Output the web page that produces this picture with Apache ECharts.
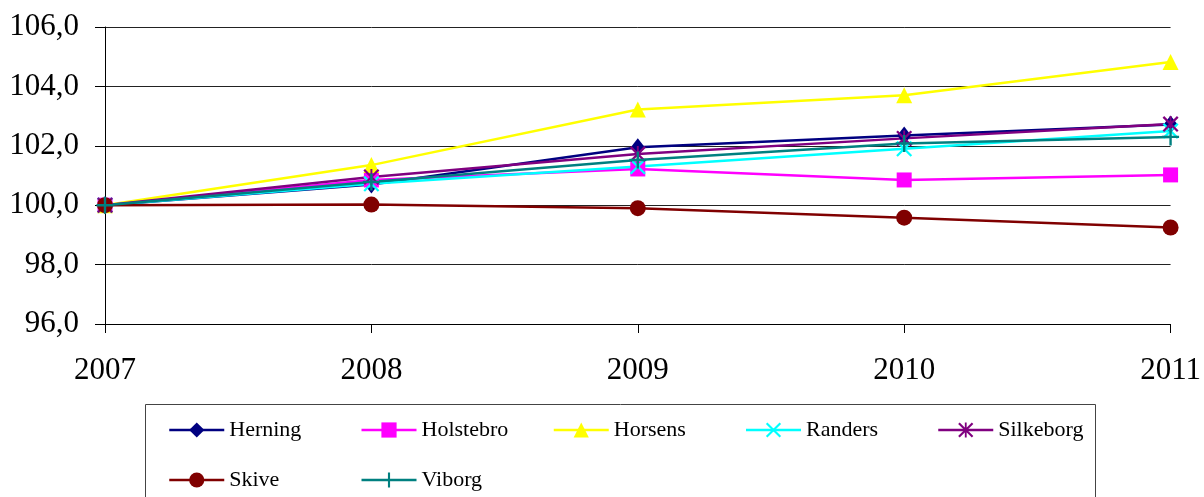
<!DOCTYPE html>
<html>
<head>
<meta charset="utf-8">
<script src="https://cdn.jsdelivr.net/npm/echarts@6/dist/echarts.min.js"></script>
<style>
html,body{margin:0;padding:0;background:#fff;}
#c{width:1204px;height:497px;}
</style>
</head>
<body>
<div id="c"></div>
<script>
var years = ['2007', '2008', '2009', '2010', '2011'];
var herning   = [100, 100.70, 101.95, 102.35, 102.72];
var holstebro = [100, 100.85, 101.22, 100.85, 101.02];
var horsens   = [100, 101.35, 103.22, 103.70, 104.82];
var randers   = [100, 100.72, 101.30, 101.90, 102.50];
var silkeborg = [100, 100.95, 101.72, 102.25, 102.73];
var skive     = [100, 100.02, 99.90, 99.58, 99.25];
var viborg    = [100, 100.78, 101.52, 102.08, 102.30];
var yMin = 96, yMax = 106, yStep = 2;

var FONT = '"Liberation Serif", "Times New Roman", serif';
var PLUS = 'path://M4.3,0 L5.7,0 L5.7,4.3 L10,4.3 L10,5.7 L5.7,5.7 L5.7,10 L4.3,10 L4.3,5.7 L0,5.7 L0,4.3 L4.3,4.3 Z';
var XMARK = 'path://M0,1 L1,0 L10,9 L9,10 Z M9,0 L10,1 L1,10 L0,9 Z';
var STAR = 'path://M0,1 L1,0 L10,9 L9,10 Z M9,0 L10,1 L1,10 L0,9 Z M4.4,0 L5.6,0 L5.6,10 L4.4,10 Z';

function mk(name, data, color, symbol, size) {
  return {
    name: name, type: 'line', data: data,
    symbol: symbol, symbolSize: size,
    lineStyle: {color: color, width: 2.5},
    itemStyle: {color: color},
    emphasis: {disabled: true}
  };
}

var chart = echarts.init(document.getElementById('c'), null, {renderer: 'canvas'});
chart.setOption({
  animation: false,
  backgroundColor: '#fff',
  grid: {left: 105, right: 32, top: 27, bottom: 173, containLabel: false},
  xAxis: {
    type: 'category', data: years, boundaryGap: false,
    axisLine: {lineStyle: {color: '#000', width: 1}},
    axisTick: {show: true, length: 9, lineStyle: {color: '#000'}},
    axisLabel: {color: '#000', fontSize: 31, fontFamily: FONT, margin: 31, showMaxLabel: true, showMinLabel: true, interval: 0}
  },
  yAxis: {
    type: 'value', min: yMin, max: yMax, interval: yStep,
    axisLine: {show: true, lineStyle: {color: '#000', width: 1}},
    axisTick: {show: true, length: 10, lineStyle: {color: '#000'}},
    splitLine: {show: true, lineStyle: {color: '#222', width: 1}},
    axisLabel: {color: '#000', fontSize: 31, fontFamily: FONT, margin: 26,
      formatter: function (v) { return v.toFixed(1).replace('.', ','); }}
  },
  legend: {
    left: 168, top: 415, width: 950, padding: 0,
    itemGap: 20, itemWidth: 55, itemHeight: 19,
    lineStyle: {width: 2.5},
    textStyle: {color: '#000', fontSize: 22, fontFamily: FONT, width: 111, lineHeight: 30},
    data: ['Herning', 'Holstebro', 'Horsens', 'Randers', 'Silkeborg', 'Skive', 'Viborg']
  },
  graphic: [{
    type: 'rect', silent: true, z: -1,
    shape: {x: 145.5, y: 404.5, width: 950, height: 120},
    style: {fill: 'none', stroke: '#444', lineWidth: 1}
  }],
  series: [
    mk('Herning', herning, '#000080', 'diamond', [14, 18]),
    mk('Holstebro', holstebro, '#FF00FF', 'rect', 15),
    mk('Horsens', horsens, '#FFFF00', 'triangle', 16),
    mk('Randers', randers, '#00FFFF', XMARK, 16),
    mk('Silkeborg', silkeborg, '#800080', STAR, 16),
    mk('Skive', skive, '#800000', 'circle', 16),
    mk('Viborg', viborg, '#008080', PLUS, 17)
  ]
});
</script>
</body>
</html>
